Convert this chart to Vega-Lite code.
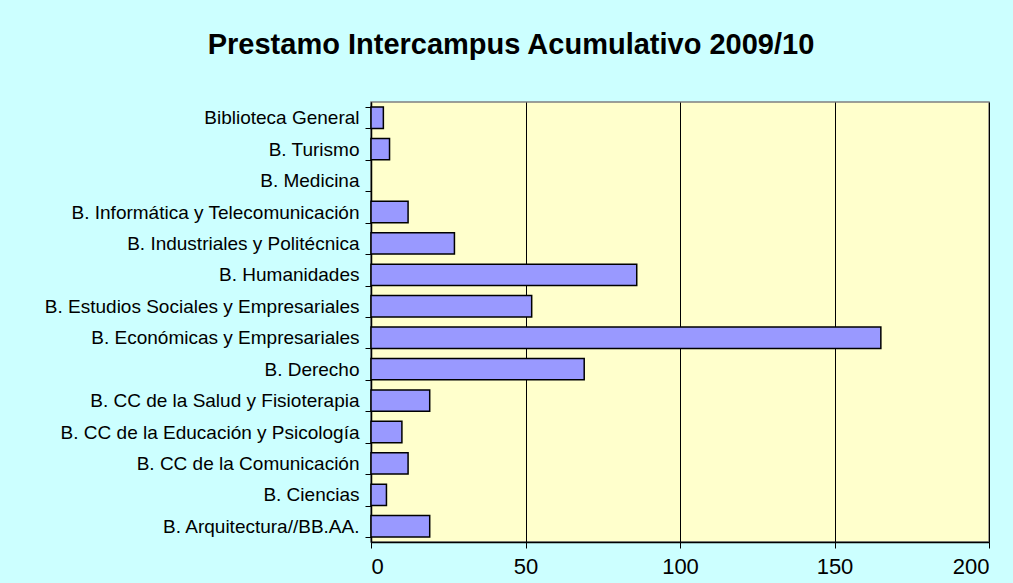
{
  "$schema": "https://vega.github.io/schema/vega-lite/v6.json",
  "autosize": {"type": "none"},
  "padding": {"left": 371, "top": 102, "right": 24, "bottom": 41},
  "width": 618,
  "height": 440,
  "background": "#CCFFFF",
  "title": {
    "text": "Prestamo Intercampus Acumulativo 2009/10",
    "font": "Liberation Sans",
    "fontSize": 29,
    "fontWeight": "bold",
    "color": "#000000",
    "anchor": "middle",
    "dx": -169,
    "offset": 33
  },
  "config": {
    "view": {"fill": "#FFFFCC", "stroke": "#808080", "strokeWidth": 1.5},
    "axis": {"labelFont": "Liberation Sans", "labelColor": "#000000", "domainColor": "#000000", "tickColor": "#000000"}
  },
  "data": {
    "values": [
      {"biblioteca": "Biblioteca General", "prestamos": 4},
      {"biblioteca": "B. Turismo", "prestamos": 6},
      {"biblioteca": "B. Medicina", "prestamos": 0},
      {"biblioteca": "B. Informática y Telecomunicación", "prestamos": 12},
      {"biblioteca": "B. Industriales y Politécnica", "prestamos": 27},
      {"biblioteca": "B. Humanidades", "prestamos": 86},
      {"biblioteca": "B. Estudios Sociales y Empresariales", "prestamos": 52},
      {"biblioteca": "B. Económicas y Empresariales", "prestamos": 165},
      {"biblioteca": "B. Derecho", "prestamos": 69},
      {"biblioteca": "B. CC de la Salud y Fisioterapia", "prestamos": 19},
      {"biblioteca": "B. CC de la Educación y Psicología", "prestamos": 10},
      {"biblioteca": "B. CC de la Comunicación", "prestamos": 12},
      {"biblioteca": "B. Ciencias", "prestamos": 5},
      {"biblioteca": "B. Arquitectura//BB.AA.", "prestamos": 19}
    ]
  },
  "mark": {"type": "bar", "fill": "#9999FF", "stroke": "#000000", "strokeWidth": 1.5},
  "encoding": {
    "y": {
      "field": "biblioteca",
      "type": "nominal",
      "sort": null,
      "scale": {"paddingInner": 0.32, "paddingOuter": 0.16},
      "axis": {
        "title": null,
        "labelFontSize": 19,
        "labelPadding": 6,
        "tickBand": "extent",
        "tickSize": 6,
        "domainWidth": 1.5,
        "labelLimit": 400
      }
    },
    "x": {
      "field": "prestamos",
      "type": "quantitative",
      "scale": {"domain": [0, 200], "nice": false},
      "axis": {
        "title": null,
        "values": [0, 50, 100, 150, 200],
        "labelFontSize": 22,
        "labelPadding": 8,
        "tickSize": 6,
        "grid": true,
        "gridColor": "#000000",
        "gridOpacity": 1,
        "gridWidth": 1,
        "domainWidth": 1.5
      }
    },
    "strokeOpacity": {
      "condition": {"test": "datum.prestamos == 0", "value": 0},
      "value": 1
    }
  }
}
